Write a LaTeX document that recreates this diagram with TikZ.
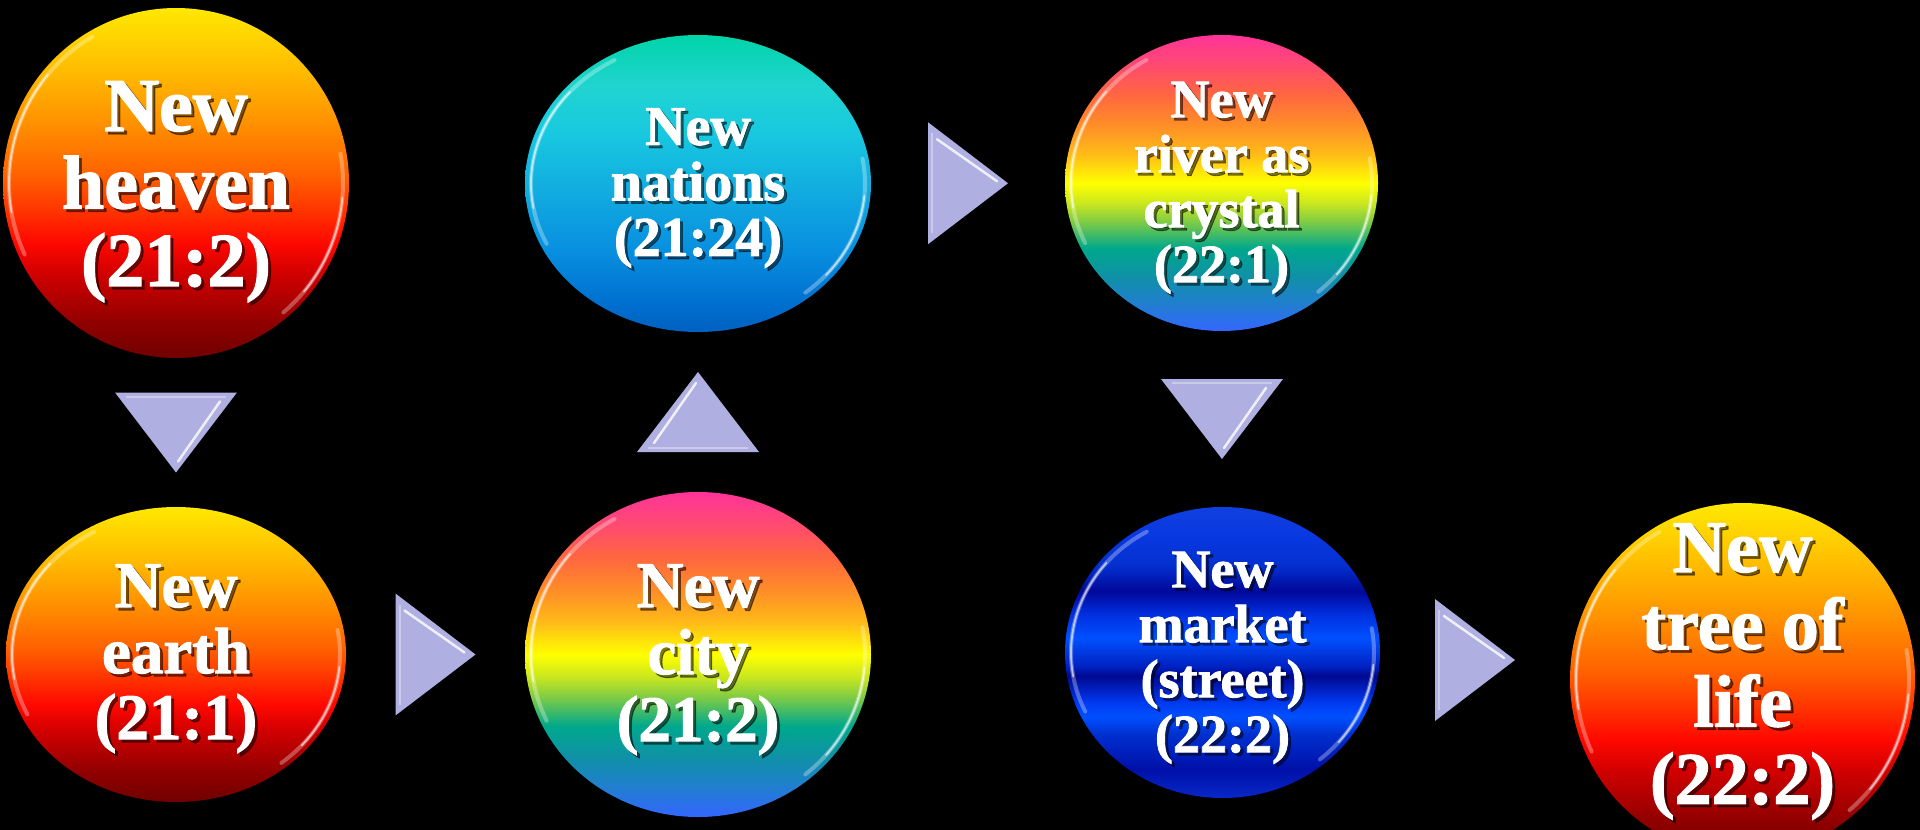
\documentclass[tikz,border=0pt]{standalone}
\usepackage{fontspec}
\setmainfont{Liberation Serif}[BoldFeatures={FakeBold=1.6}]
\usetikzlibrary{shapes.geometric,calc}

% fire
\definecolor{fi0}{HTML}{FFE800}\definecolor{fi1}{HTML}{FFB800}\definecolor{fi2}{HTML}{FF9000}
\definecolor{fi3}{HTML}{FF6000}\definecolor{fi4}{HTML}{FF3800}\definecolor{fi5}{HTML}{FF0800}
\definecolor{fi6}{HTML}{D00000}\definecolor{fi7}{HTML}{900000}\definecolor{fi8}{HTML}{700000}
% rainbow
\definecolor{rb0}{HTML}{FF3399}\definecolor{rb1}{HTML}{FF4A70}\definecolor{rb2}{HTML}{FF6640}
\definecolor{rb3}{HTML}{FF8C28}\definecolor{rb4}{HTML}{FFBA18}\definecolor{rb5}{HTML}{FFFF00}
\definecolor{rb6}{HTML}{C8E620}\definecolor{rb7}{HTML}{80CC44}\definecolor{rb8}{HTML}{00A88C}
\definecolor{rb9}{HTML}{1090A8}\definecolor{rb10}{HTML}{2080CC}\definecolor{rb11}{HTML}{3366FF}
% nations
\definecolor{na0}{HTML}{00D4A8}\definecolor{na1}{HTML}{20D4D0}\definecolor{na2}{HTML}{18C8E0}
\definecolor{na3}{HTML}{10A8E0}\definecolor{na4}{HTML}{0890E0}\definecolor{na5}{HTML}{0070D0}
\definecolor{na6}{HTML}{0060C0}
% market
\definecolor{mk0}{HTML}{1040E0}\definecolor{mk1}{HTML}{0838E0}\definecolor{mk2}{HTML}{0430D0}
\definecolor{mk3}{HTML}{00089A}\definecolor{mk4}{HTML}{0030E0}\definecolor{mk5}{HTML}{0050FF}
\definecolor{mk6}{HTML}{0020C0}\definecolor{mk7}{HTML}{000890}\definecolor{mk8}{HTML}{0038F0}
\definecolor{mk9}{HTML}{0050FF}\definecolor{mk10}{HTML}{0030D0}\definecolor{mk11}{HTML}{0010A8}
\definecolor{mk12}{HTML}{0828C8}
\definecolor{trilav}{HTML}{AFAFE1}

\pgfdeclareverticalshading{fireshade}{100bp}{color(0bp)=(fi8); color(25bp)=(fi8); color(30bp)=(fi7);
 color(37bp)=(fi6); color(41.5bp)=(fi5); color(46.5bp)=(fi4); color(51bp)=(fi3); color(58.5bp)=(fi2);
 color(65.5bp)=(fi1); color(75bp)=(fi0); color(100bp)=(fi0)}
\pgfdeclareverticalshading{rainbowshade}{100bp}{color(0bp)=(rb11); color(25bp)=(rb11); color(30bp)=(rb10);
 color(34bp)=(rb9); color(39bp)=(rb8); color(43.5bp)=(rb7); color(46.5bp)=(rb6); color(50bp)=(rb5);
 color(55bp)=(rb4); color(60bp)=(rb3); color(65bp)=(rb2); color(70bp)=(rb1); color(75bp)=(rb0); color(100bp)=(rb0)}
\pgfdeclareverticalshading{nationshade}{100bp}{color(0bp)=(na6); color(25bp)=(na6); color(30bp)=(na5);
 color(39bp)=(na4); color(47.5bp)=(na3); color(58.5bp)=(na2); color(66.5bp)=(na1); color(75bp)=(na0); color(100bp)=(na0)}
\pgfdeclareverticalshading{marketshade}{100bp}{color(0bp)=(mk12); color(25bp)=(mk12); color(30bp)=(mk11);
 color(36bp)=(mk10); color(39bp)=(mk9); color(41.5bp)=(mk8); color(46bp)=(mk7); color(47.5bp)=(mk6);
 color(52.5bp)=(mk5); color(56.5bp)=(mk4); color(60.5bp)=(mk3); color(65bp)=(mk2); color(70bp)=(mk1);
 color(75bp)=(mk0); color(100bp)=(mk0)}

\tikzset{
  bubble/.style={ellipse, inner sep=0pt, draw=none, shade},
  rimsoft/.style={white, opacity=0.3, line width=4pt, line cap=round},
  rimstrong/.style={white, opacity=0.6, line width=1.8pt, line cap=round},
  lbl/.style={text=white, align=center, inner sep=0pt},
  lblsh/.style={text=black, text opacity=0.5, align=center, inner sep=0pt},
  trifill/.style={fill=trilav},
  trihl/.style={white, line width=2.5pt, opacity=0.8, line cap=round},
  tri/.pic={
    \fill[trifill] (-40,-61) -- (40,0) -- (-40,61) -- cycle;
    \draw[white, opacity=0.35, line width=2pt] (-36,-50) -- (-36,50);
    \draw[trihl] (-31,-44) -- (29,-2);
  }
}

\newcommand\mybubble[6]{%
  \node[bubble, shading=#6, minimum width=#4*2pt, minimum height=#5*2pt] (#1) at (#2,#3) {};
  \pgfmathsetmacro\rxi{#4-6}\pgfmathsetmacro\ryi{#5-6}%
  \begin{scope}[shift={(#1.center)}]
    \draw[rimsoft] (120:\rxi pt and \ryi pt) arc[start angle=120, end angle=205, x radius=\rxi pt, y radius=\ryi pt];
    \draw[rimstrong] (140:\rxi pt and \ryi pt) arc[start angle=140, end angle=190, x radius=\rxi pt, y radius=\ryi pt];
    \draw[rimsoft] (-50:\rxi pt and \ryi pt) arc[start angle=-50, end angle=10, x radius=\rxi pt, y radius=\ryi pt];
    \draw[rimstrong] (-40:\rxi pt and \ryi pt) arc[start angle=-40, end angle=-5, x radius=\rxi pt, y radius=\ryi pt];
  \end{scope}}

\newcommand\bublabel[5]{%
  \node[lblsh, font=\fontsize{#3}{#4}\selectfont\bfseries] at ([shift={(3,#2+3)}]#1.center) {#5};
  \node[lbl, font=\fontsize{#3}{#4}\selectfont\bfseries] (#1-text) at ([shift={(0,#2)}]#1.center) {#5};}

\begin{document}
\begin{tikzpicture}[x=1pt,y=-1pt]
\useasboundingbox (0,0) rectangle (1920,830);
\fill[black] (0,0) rectangle (1920,830);
\clip (0,0) rectangle (1920,830);

\mybubble{heaven}{176}{183}{173}{175}{fireshade}
\mybubble{earth}{176}{654.5}{170}{147.5}{fireshade}
\mybubble{city}{698}{654.5}{173}{162.5}{rainbowshade}
\mybubble{nations}{698}{183.5}{173}{148.5}{nationshade}
\mybubble{river}{1221.5}{183}{156.5}{148}{rainbowshade}
\mybubble{market}{1222.5}{652.5}{157.5}{145.5}{marketshade}
\mybubble{tree}{1742.5}{679.5}{172.5}{176.5}{fireshade}

\bublabel{heaven}{8.6}{76}{77.5}{New\\heaven\\(21:2)}
\bublabel{nations}{4.5}{56}{55.5}{New\\nations\\(21:24)}
\bublabel{river}{4.8}{54}{55}{New\\river as\\crystal\\(22:1)}
\bublabel{earth}{4.2}{65}{66}{New\\earth\\(21:1)}
\bublabel{city}{5.2}{65}{67}{New\\city\\(21:2)}
\bublabel{market}{5.3}{54}{55}{New\\market\\(street)\\(22:2)}
\bublabel{tree}{-8}{74}{77.3}{New\\tree of\\life\\(22:2)}

\coordinate (t1) at ($(heaven.south)!0.5!(earth.north)$);
\coordinate (t2) at ($(earth.east)!0.5!(city.west)$);
\coordinate (t3) at ($(city.north)!0.5!(nations.south)$);
\coordinate (t4) at ($(nations.east)!0.5!(river.west)$);
\coordinate (t5) at ($(river.south)!0.5!(market.north)$);
\coordinate (t6) at ($($(market.east)!0.5!(tree.west)$)+(0,-6)$);

\pic[rotate=-90] at (t1) {tri};
\pic at (t2) {tri};
\pic[rotate=90] at (t3) {tri};
\pic at (t4) {tri};
\pic[rotate=-90] at (t5) {tri};
\pic at (t6) {tri};
\end{tikzpicture}
\end{document}
